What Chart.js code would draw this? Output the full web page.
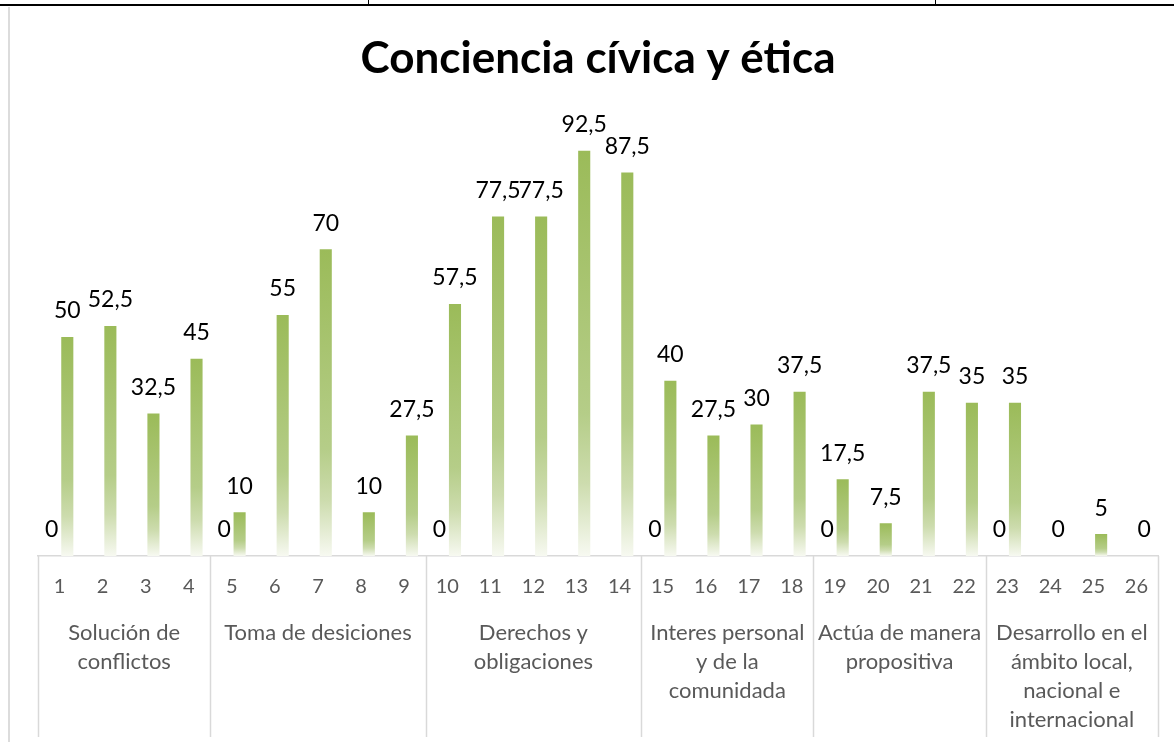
<!DOCTYPE html>
<html>
<head>
<meta charset="utf-8">
<script src="https://cdn.jsdelivr.net/npm/chart.js@4"></script>
<style>
  body { margin: 0; background: #fff; width: 1174px; height: 742px; overflow: hidden; position: relative; }
  .topline { position: absolute; left: 0; top: 4px; width: 1174px; height: 2px; background: #000; }
  .vline { position: absolute; top: 0; width: 1px; height: 5px; background: #000; }
  .leftline { position: absolute; left: 8px; top: 7px; width: 2px; height: 735px; background: #dcdcdc; }
  #wrap { position: absolute; left: 10px; top: 18px; width: 1164px; height: 724px; }
</style>
</head>
<body>
<div class="topline"></div>
<div class="vline" style="left:368px"></div>
<div class="vline" style="left:935px"></div>
<div class="leftline"></div>
<div id="wrap"><canvas id="chart"></canvas></div>
<script>
const items = ["1","2","3","4","5","6","7","8","9","10","11","12","13","14","15","16","17","18","19","20","21","22","23","24","25","26"];
const values = [50, 52.5, 32.5, 45, 10, 55, 70, 10, 27.5, 57.5, 77.5, 77.5, 92.5, 87.5, 40, 27.5, 30, 37.5, 17.5, 7.5, 37.5, 35, 35, 0, 5, 0];
const zeros = [0, null, null, null, 0, null, null, null, null, 0, null, null, null, null, 0, null, null, null, 0, null, null, null, 0, null, null, null];
const groupNames = [
  ["Solución de", "conflictos"],
  ["Toma de desiciones"],
  ["Derechos y", "obligaciones"],
  ["Interes personal", "y de la", "comunidada"],
  ["Actúa de manera", "propositiva"],
  ["Desarrollo en el", "ámbito local,", "nacional e", "internacional"]
];
const groupSizes = [4, 5, 5, 4, 4, 4];

const FONT = "Lato, 'Open Sans', sans-serif";

// each bar fades from green at the top to almost white at its base
function barGradient(ctx) {
  const chart = ctx.chart;
  const v = ctx.raw;
  if (!chart.chartArea || v == null || v === 0) return "#9bbb59";
  const y = chart.scales.y;
  const top = y.getPixelForValue(v);
  const base = y.getPixelForValue(0);
  const g = chart.ctx.createLinearGradient(0, top, 0, base);
  g.addColorStop(0, "#9bbb59");
  g.addColorStop(0.65, "#b5cd88");
  g.addColorStop(0.82, "#cddcae");
  g.addColorStop(1, "#f7f9f1");
  return g;
}

const valueLabels = {
  id: "valueLabels",
  afterDatasetsDraw(chart) {
    const ctx = chart.ctx;
    ctx.save();
    ctx.font = "23px " + FONT;
    ctx.fillStyle = "#000";
    ctx.textAlign = "center";
    ctx.textBaseline = "middle";
    chart.data.datasets.forEach((ds, i) => {
      chart.getDatasetMeta(i).data.forEach((bar, j) => {
        const v = ds.data[j];
        if (v == null) return;
        ctx.fillText(String(v).replace(".", ","), bar.x, bar.y - 26);
      });
    });
    ctx.restore();
  }
};

const groupAxis = {
  id: "groupAxis",
  afterDraw(chart) {
    const ctx = chart.ctx;
    const x = chart.scales.x;
    const bottom = chart.chartArea.bottom;
    const step = x.getPixelForValue(1) - x.getPixelForValue(0);
    ctx.save();
    ctx.strokeStyle = "#d9d9d9";
    ctx.lineWidth = 1.5;
    ctx.font = "22px " + FONT;
    ctx.fillStyle = "#595959";
    ctx.textAlign = "center";
    ctx.textBaseline = "middle";
    let start = 0;
    const edges = [x.getPixelForValue(0) - step / 2];
    groupSizes.forEach((n, g) => {
      const left = x.getPixelForValue(start) - step / 2;
      const right = x.getPixelForValue(start + n - 1) + step / 2;
      edges.push(right);
      groupNames[g].forEach((line, k) => {
        ctx.fillText(line, (left + right) / 2, bottom + 77 + k * 29);
      });
      start += n;
    });
    edges.forEach((ex) => {
      ctx.beginPath();
      ctx.moveTo(Math.round(ex) + 0.5, bottom);
      ctx.lineTo(Math.round(ex) + 0.5, bottom + 181);
      ctx.stroke();
    });
    ctx.restore();
  }
};

new Chart(document.getElementById("chart"), {
  type: "bar",
  data: {
    labels: items,
    datasets: [
      { data: zeros, backgroundColor: barGradient, categoryPercentage: 0.72, barPercentage: 0.78 },
      { data: values, backgroundColor: barGradient, categoryPercentage: 0.72, barPercentage: 0.78 }
    ]
  },
  options: {
    responsive: true,
    maintainAspectRatio: false,
    animation: false,
    layout: { padding: { left: 28, right: 16, top: 0, bottom: 124 } },
    plugins: {
      legend: { display: false },
      tooltip: { enabled: false },
      title: {
        display: true,
        text: "Conciencia cívica y ética",
        color: "#000",
        font: { family: FONT, size: 44, weight: "bold" },
        padding: { top: 14, bottom: 33 }
      }
    },
    scales: {
      x: {
        grid: { display: false, drawTicks: false },
        border: { display: true, color: "#d9d9d9", width: 1.5 },
        ticks: { color: "#595959", font: { family: FONT, size: 20 }, padding: 19, maxRotation: 0, autoSkip: false }
      },
      y: {
        display: false,
        min: 0,
        max: 100
      }
    }
  },
  plugins: [valueLabels, groupAxis]
});
</script>
</body>
</html>
